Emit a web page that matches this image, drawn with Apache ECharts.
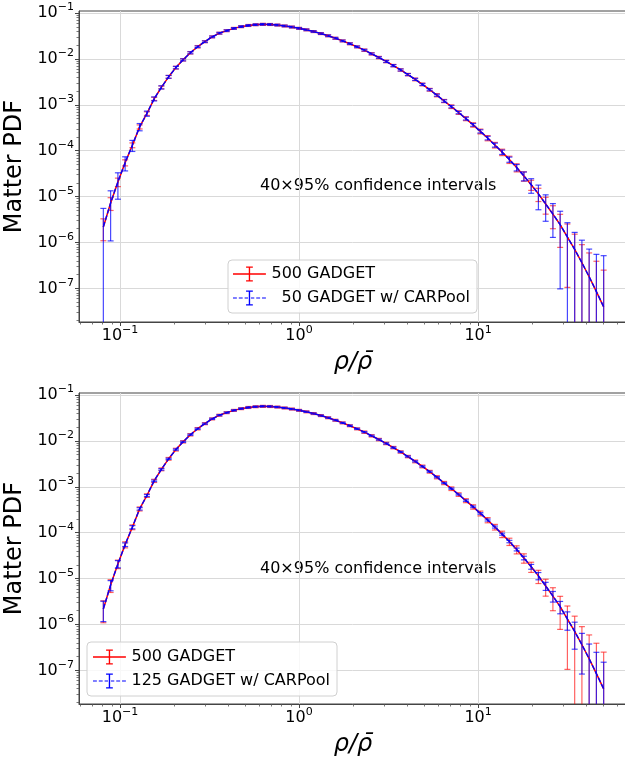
<!DOCTYPE html>
<html>
<head>
<meta charset="utf-8">
<script src="https://cdn.jsdelivr.net/npm/echarts@6/dist/echarts.min.js"></script>
<style>
  html, body { margin: 0; padding: 0; background: #fff; }
  #main { width: 625px; height: 758px; }
</style>
</head>
<body>
<div id="main"></div>
<script>
  // density bins rho / rho_bar
  var rho = [0.0807, 0.0886, 0.0973, 0.1068, 0.1172, 0.1287, 0.1413, 0.1551, 0.1702, 0.1868,
    0.2051, 0.2252, 0.2472, 0.2713, 0.2979, 0.327, 0.3589, 0.394, 0.4325, 0.4748,
    0.5212, 0.5722, 0.6281, 0.6895, 0.7568, 0.8308, 0.912, 1.001, 1.099, 1.206,
    1.324, 1.454, 1.596, 1.752, 1.923, 2.111, 2.317, 2.544, 2.793, 3.066,
    3.365, 3.694, 4.055, 4.452, 4.887, 5.365, 5.888, 6.464, 7.096, 7.79,
    8.551, 9.387, 10.30, 11.31, 12.42, 13.63, 14.96, 16.43, 18.03, 19.8,
    21.73, 23.85, 26.18, 28.74, 31.55, 34.64, 38.02, 41.74, 45.81, 50.29];

  // matter PDF (mean)
  var pdf = [2.19e-6, 7.24e-6, 2.09e-5, 5.50e-5, 1.32e-4, 3.31e-4, 6.46e-4, 1.35e-3, 2.40e-3, 4.07e-3,
    6.46e-3, 9.55e-3, 1.36e-2, 1.84e-2, 2.37e-2, 3.02e-2, 3.63e-2, 4.12e-2, 4.62e-2, 5.04e-2,
    5.35e-2, 5.56e-2, 5.66e-2, 5.62e-2, 5.46e-2, 5.22e-2, 4.94e-2, 4.63e-2, 4.30e-2, 3.94e-2,
    3.56e-2, 3.19e-2, 2.82e-2, 2.47e-2, 2.14e-2, 1.83e-2, 1.55e-2, 1.29e-2, 1.07e-2, 8.79e-3,
    7.14e-3, 5.74e-3, 4.56e-3, 3.58e-3, 2.78e-3, 2.13e-3, 1.62e-3, 1.21e-3, 9.12e-4, 6.79e-4,
    5.01e-4, 3.66e-4, 2.64e-4, 1.89e-4, 1.33e-4, 9.31e-5, 6.43e-5, 4.32e-5, 2.82e-5, 1.82e-5,
    1.15e-5, 6.92e-6, 4.17e-6, 2.45e-6, 1.32e-6, 7.08e-7, 3.63e-7, 1.80e-7, 8.51e-8, 3.98e-8];

  // half-width of the 95% intervals, relative to the mean
  var err500 = [0.50, 0.31, 0.21, 0.15, 0.12, 0.10, 0.09, 0.08, 0.07, 0.07,
    0.07, 0.06, 0.06, 0.06, 0.05, 0.05, 0.05, 0.05, 0.05, 0.05,
    0.05, 0.05, 0.05, 0.05, 0.05, 0.05, 0.05, 0.05, 0.05, 0.05,
    0.05, 0.05, 0.05, 0.05, 0.05, 0.05, 0.06, 0.06, 0.06, 0.06,
    0.06, 0.06, 0.06, 0.07, 0.07, 0.07, 0.08, 0.08, 0.09, 0.09,
    0.10, 0.11, 0.12, 0.13, 0.14, 0.16, 0.18, 0.20, 0.23, 0.25,
    0.32, 0.40, 0.52, 0.68, 0.92, 1.15, 1.48, 2.3, 3.6, 5.3];

  var err50 = [1.53, 0.85, 0.58, 0.34, 0.27, 0.18, 0.13, 0.10, 0.08, 0.07,
    0.06, 0.05, 0.05, 0.04, 0.04, 0.04, 0.04, 0.04, 0.04, 0.04,
    0.04, 0.04, 0.04, 0.04, 0.04, 0.04, 0.04, 0.04, 0.04, 0.04,
    0.04, 0.04, 0.04, 0.04, 0.04, 0.04, 0.04, 0.04, 0.04, 0.05,
    0.05, 0.05, 0.05, 0.05, 0.05, 0.05, 0.05, 0.06, 0.06, 0.06,
    0.07, 0.07, 0.08, 0.09, 0.10, 0.11, 0.13, 0.16, 0.22, 0.35,
    0.55, 0.58, 0.69, 0.96, 1.05, 1.35, 2.1, 3.0, 5.5, 12];

  var err125 = [0.47, 0.25, 0.18, 0.09, 0.08, 0.06, 0.05, 0.04, 0.04, 0.03,
    0.03, 0.03, 0.03, 0.03, 0.03, 0.03, 0.03, 0.03, 0.03, 0.03,
    0.03, 0.03, 0.03, 0.03, 0.03, 0.03, 0.03, 0.03, 0.03, 0.03,
    0.03, 0.03, 0.03, 0.03, 0.03, 0.03, 0.03, 0.03, 0.03, 0.03,
    0.03, 0.03, 0.03, 0.03, 0.03, 0.03, 0.03, 0.03, 0.03, 0.03,
    0.04, 0.04, 0.04, 0.05, 0.05, 0.05, 0.06, 0.07, 0.09, 0.12,
    0.18, 0.20, 0.26, 0.30, 0.43, 0.59, 0.77, 1.09, 1.92, 2.8];

  // tick positions
  var xMajor = [0.1, 1, 10];
  var xMinor = [0.06, 0.07, 0.08, 0.09, 0.2, 0.3, 0.4, 0.5, 0.6, 0.7, 0.8, 0.9,
    2, 3, 4, 5, 6, 7, 8, 9, 20, 30, 40, 50, 60];
  var yMajor = [1e-7, 1e-6, 1e-5, 1e-4, 1e-3, 1e-2, 1e-1];
  var yMinor = [2e-8, 3e-8, 4e-8, 5e-8, 6e-8, 7e-8, 8e-8, 9e-8,
    2e-7, 3e-7, 4e-7, 5e-7, 6e-7, 7e-7, 8e-7, 9e-7,
    2e-6, 3e-6, 4e-6, 5e-6, 6e-6, 7e-6, 8e-6, 9e-6,
    2e-5, 3e-5, 4e-5, 5e-5, 6e-5, 7e-5, 8e-5, 9e-5,
    2e-4, 3e-4, 4e-4, 5e-4, 6e-4, 7e-4, 8e-4, 9e-4,
    2e-3, 3e-3, 4e-3, 5e-3, 6e-3, 7e-3, 8e-3, 9e-3,
    2e-2, 3e-2, 4e-2, 5e-2, 6e-2, 7e-2, 8e-2, 9e-2];

  var XMIN = 0.059, XMAX = 67.9, YMIN = 1.86e-8, YMAX = 0.1104;
  var FONT = 'DejaVu Sans';

  var RED = '#ff0000', BLUE = '#0000ff';
  var RED_BAR = 'rgba(255,0,0,0.62)', BLUE_BAR = 'rgba(0,0,255,0.72)';

  function linePoints() {
    return rho.map(function (x, i) { return [x, pdf[i]]; });
  }

  function barPoints(rel) {
    return rho.map(function (x, i) {
      var lo = pdf[i] * (1 - rel[i]);
      if (lo <= 0) lo = YMIN / 10;
      return [x, lo, pdf[i] * (1 + rel[i])];
    });
  }

  function errorBars(color) {
    return function (params, api) {
      var x = api.value(0);
      var top = api.coord([x, api.value(2)]);
      var bot = api.coord([x, api.value(1)]);
      var w = 3;
      var segs = [
        [top[0], top[1], bot[0], bot[1]],
        [top[0] - w, top[1], top[0] + w, top[1]],
        [bot[0] - w, bot[1], bot[0] + w, bot[1]]
      ];
      return {
        type: 'group',
        children: segs.map(function (s) {
          return {
            type: 'line',
            shape: {x1: s[0], y1: s[1], x2: s[2], y2: s[3]},
            style: {stroke: color, lineWidth: 1.2}
          };
        })
      };
    };
  }

  function decade(v) {
    var e = Math.log10(v);
    var r = Math.round(e);
    if (Math.abs(e - r) > 1e-3) return '';
    return '{b|10}{s|' + (r < 0 ? '\u2212' + (-r) : r) + '}';
  }

  var rich = {
    b: {fontSize: 16, fontFamily: FONT, color: '#000', lineHeight: 22},
    s: {fontSize: 11, fontFamily: FONT, color: '#000', lineHeight: 12, verticalAlign: 'top'}
  };

  function xAxis(idx) {
    return {
      type: 'log', logBase: 10, gridIndex: idx, min: XMIN, max: XMAX,
      name: '\u03c1/\u03c1\u0304', nameLocation: 'middle', nameGap: 29,
      nameTextStyle: {fontSize: 24, fontStyle: 'italic', fontFamily: FONT, color: '#000'},
      axisLine: {lineStyle: {color: '#444', width: 1}},
      axisTick: {length: 4, customValues: xMajor, lineStyle: {color: '#444'}},
      axisLabel: {margin: 3, formatter: decade, rich: rich},
      splitLine: {show: true, lineStyle: {color: '#d9d9d9', width: 1}}
    };
  }

  function yAxis(idx) {
    return {
      type: 'log', logBase: 10, gridIndex: idx, min: YMIN, max: YMAX,
      name: 'Matter PDF', nameLocation: 'middle', nameGap: 46,
      nameTextStyle: {fontSize: 24, fontFamily: FONT, color: '#000'},
      axisLine: {lineStyle: {color: '#444', width: 1}},
      axisTick: {length: 4, customValues: yMajor, lineStyle: {color: '#444'}},
      axisLabel: {margin: 5, formatter: decade, rich: rich},
      splitLine: {show: true, lineStyle: {color: '#d9d9d9', width: 1}}
    };
  }

  // axes that only carry the small log ticks
  function minorAxis(idx, isX) {
    return {
      type: 'log', logBase: 10, gridIndex: idx,
      min: isX ? XMIN : YMIN, max: isX ? XMAX : YMAX,
      position: isX ? 'bottom' : 'left',
      axisLine: {show: false},
      axisTick: {length: 2.5, customValues: isX ? xMinor : yMinor, lineStyle: {color: '#555', width: 0.8}},
      axisLabel: {show: false},
      splitLine: {show: false}
    };
  }

  var ICON_SOLID = 'path://M0,7L34,7L34,8.5L0,8.5Z M16.3,0.5L17.7,0.5L17.7,15L16.3,15Z M13.5,0L20.5,0L20.5,1.2L13.5,1.2Z M13.5,14.3L20.5,14.3L20.5,15.5L13.5,15.5Z';
  var ICON_DASH = 'path://M0,7.2L4,7.2L4,8.3L0,8.3Z M6,7.2L10,7.2L10,8.3L6,8.3Z M12,7.2L15.5,7.2L15.5,8.3L12,8.3Z M18.5,7.2L22,7.2L22,8.3L18.5,8.3Z M24,7.2L28,7.2L28,8.3L24,8.3Z M30,7.2L34,7.2L34,8.3L30,8.3Z M16.3,0.5L17.7,0.5L17.7,15L16.3,15Z M13.5,0L20.5,0L20.5,1.2L13.5,1.2Z M13.5,14.3L20.5,14.3L20.5,15.5L13.5,15.5Z';

  var names = ['  50 GADGET w/ CARPool', '125 GADGET w/ CARPool'];
  var blueErr = [err50, err125];

  function legend(idx, left, top, pad) {
    return {
      orient: 'vertical', left: left, top: top, padding: pad, itemGap: 8,
      itemWidth: 34, itemHeight: 15, selectedMode: false,
      backgroundColor: 'rgba(255,255,255,0.8)', borderColor: '#d0d0d0', borderWidth: 1, borderRadius: 4,
      textStyle: {fontSize: 16, fontFamily: FONT, color: '#000'},
      data: [
        {name: '500 GADGET', icon: ICON_SOLID, itemStyle: {color: RED}},
        {name: names[idx], icon: ICON_DASH, itemStyle: {color: BLUE}}
      ]
    };
  }

  var series = [];
  [0, 1].forEach(function (p) {
    series.push({
      name: '500 GADGET', type: 'line', xAxisIndex: p, yAxisIndex: p,
      data: linePoints(), showSymbol: false, color: RED,
      lineStyle: {color: RED, width: 1.5}, z: 2
    });
    series.push({
      name: 'bars500_' + p, type: 'custom', xAxisIndex: p, yAxisIndex: p, clip: true,
      data: barPoints(err500), encode: {x: 0, y: [1, 2]},
      renderItem: errorBars(RED_BAR), z: 2
    });
    series.push({
      name: names[p], type: 'line', xAxisIndex: p, yAxisIndex: p,
      data: linePoints(), showSymbol: false, color: BLUE,
      lineStyle: {color: BLUE, width: 1.4, type: [5, 2]}, z: 3
    });
    series.push({
      name: 'barsCV_' + p, type: 'custom', xAxisIndex: p, yAxisIndex: p, clip: true,
      data: barPoints(blueErr[p]), encode: {x: 0, y: [1, 2]},
      renderItem: errorBars(BLUE_BAR), z: 3
    });
  });

  var chart = echarts.init(document.getElementById('main'), null, {renderer: 'canvas'});
  chart.setOption({
    animation: false,
    backgroundColor: '#fff',
    grid: [
      {left: 79, top: 11, width: 548, height: 311, show: true, borderColor: '#444', borderWidth: 1, outerBoundsMode: 'none'},
      {left: 79, top: 393, width: 548, height: 311, show: true, borderColor: '#444', borderWidth: 1, outerBoundsMode: 'none'}
    ],
    xAxis: [xAxis(0), xAxis(1), minorAxis(0, true), minorAxis(1, true)],
    yAxis: [yAxis(0), yAxis(1), minorAxis(0, false), minorAxis(1, false)],
    legend: [legend(0, 228, 260, [6, 7, 7, 5]), legend(1, 87, 642, [7, 7, 7, 6])],
    graphic: [
      {type: 'text', left: 260, top: 178, style: {text: '40\u00d795% confidence intervals', fontSize: 16, fontFamily: FONT, fill: '#000'}},
      {type: 'text', left: 260, top: 561, style: {text: '40\u00d795% confidence intervals', fontSize: 16, fontFamily: FONT, fill: '#000'}}
    ],
    series: series
  });
</script>
</body>
</html>
